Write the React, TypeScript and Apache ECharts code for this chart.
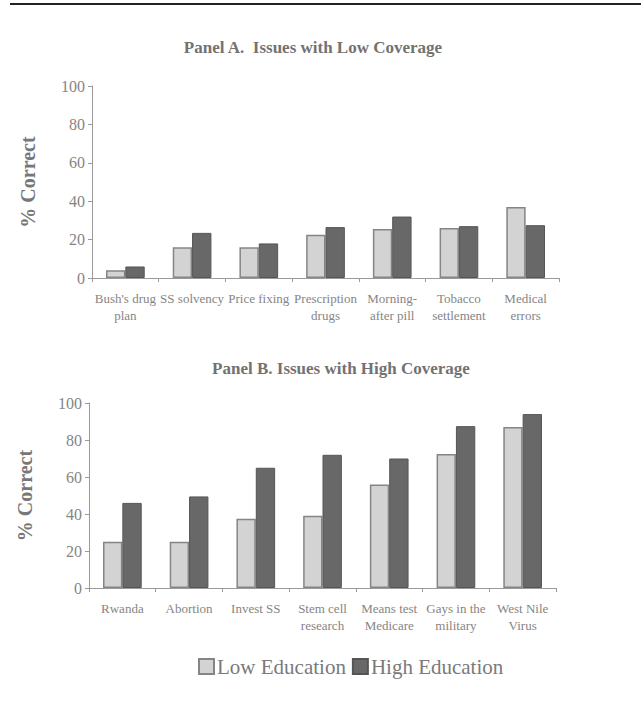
import React, { useEffect, useRef } from "react";
import * as echarts from "echarts";

const catsA = ["Bush's drug\nplan", "SS solvency", "Price fixing", "Prescription\ndrugs", "Morning-\nafter pill", "Tobacco\nsettlement", "Medical\nerrors"];
const lowA = [4, 16, 16, 22.5, 25.5, 26, 37];
const highA = [6, 23.5, 18, 26.5, 32, 27, 27.5];

const catsB = ["Rwanda", "Abortion", "Invest SS", "Stem cell\nresearch", "Means test\nMedicare", "Gays in the\nmilitary", "West Nile\nVirus"];
const lowB = [25, 25, 37.5, 39, 56, 72.5, 87];
const highB = [46, 49.5, 65, 72, 70, 87.5, 94];

const titleA = "Panel A.  Issues with Low Coverage";
const titleB = "Panel B. Issues with High Coverage";
const yName = "% Correct";

const FONT = "'Liberation Serif', 'Times New Roman', serif";
const LOW_FILL = "#d3d3d3";
const LOW_BORDER = "#858585";
const HIGH_FILL = "#686868";
const HIGH_BORDER = "#555555";
const AXIS = "#9a9a9a";
const TEXT = "#858585";

export default function App() {
  const ref = useRef<HTMLDivElement>(null);
  useEffect(() => {
    document.body.style.margin = "0";
    const chart = echarts.init(ref.current!, null, { renderer: "svg" });
    const yAxisBase = (gi: number) => ({
      type: "value",
      gridIndex: gi,
      min: 0,
      max: 100,
      interval: 20,
      name: yName,
      nameLocation: "middle",
      nameGap: 54,
      nameTextStyle: { fontFamily: FONT, fontSize: 20, fontWeight: "bold", color: "#777" },
      splitLine: { show: false },
      axisLine: { show: true, lineStyle: { color: AXIS, width: 1 } },
      axisTick: { show: true, length: 4, lineStyle: { color: AXIS } },
      axisLabel: { fontFamily: FONT, fontSize: 16, color: TEXT, margin: 7 },
    });
    const xAxisBase = (gi: number, cats: string[]) => ({
      type: "category",
      gridIndex: gi,
      data: cats,
      axisLine: { show: true, lineStyle: { color: AXIS, width: 1 } },
      axisTick: { show: true, length: 4, interval: 0, lineStyle: { color: AXIS } },
      axisLabel: { interval: 0, fontFamily: FONT, fontSize: 13, color: TEXT, lineHeight: 17, margin: 12 },
    });
    const lowStyle = { color: LOW_FILL, borderColor: LOW_BORDER, borderWidth: 1.5 };
    const highStyle = { color: HIGH_FILL, borderColor: HIGH_BORDER, borderWidth: 1 };
    chart.setOption({
      animation: false,
      backgroundColor: "#ffffff",
      title: [
        { text: titleA, left: 308, top: 34, textAlign: "center", textStyle: { fontFamily: FONT, fontSize: 17, fontWeight: "bold", color: "#727272" } },
        { text: titleB, left: 336, top: 355, textAlign: "center", textStyle: { fontFamily: FONT, fontSize: 17, fontWeight: "bold", color: "#727272" } },
      ],
      legend: {
        data: ["Low Education", "High Education"],
        left: 193,
        top: 651,
        icon: "rect",
        itemWidth: 15,
        itemHeight: 15,
        itemGap: 6,
        textStyle: { fontFamily: FONT, fontSize: 21, color: "#7a7a7a", padding: [0, 0, 0, -2] },
      },
      grid: [
        { left: 92, right: 82, top: 86, bottom: 711 - 278 },
        { left: 89, right: 85, top: 403, bottom: 711 - 588 },
      ],
      xAxis: [xAxisBase(0, catsA), xAxisBase(1, catsB)],
      yAxis: [yAxisBase(0), yAxisBase(1)],
      graphic: [
        { type: "line", shape: { x1: 10, y1: 4, x2: 641, y2: 4 }, style: { stroke: "#222", lineWidth: 2 } },
      ],
      series: [
        { name: "Low Education", type: "bar", xAxisIndex: 0, yAxisIndex: 0, data: lowA, barWidth: "29%", barGap: "0%", itemStyle: lowStyle },
        { name: "High Education", type: "bar", xAxisIndex: 0, yAxisIndex: 0, data: highA, barWidth: "29%", barGap: "0%", itemStyle: highStyle },
        { name: "Low Education", type: "bar", xAxisIndex: 1, yAxisIndex: 1, data: lowB, barWidth: "29%", barGap: "0%", itemStyle: lowStyle },
        { name: "High Education", type: "bar", xAxisIndex: 1, yAxisIndex: 1, data: highB, barWidth: "29%", barGap: "0%", itemStyle: highStyle },
      ],
    });
    return () => chart.dispose();
  }, []);
  return <div ref={ref} style={{ width: 641, height: 711 }} />;
}
